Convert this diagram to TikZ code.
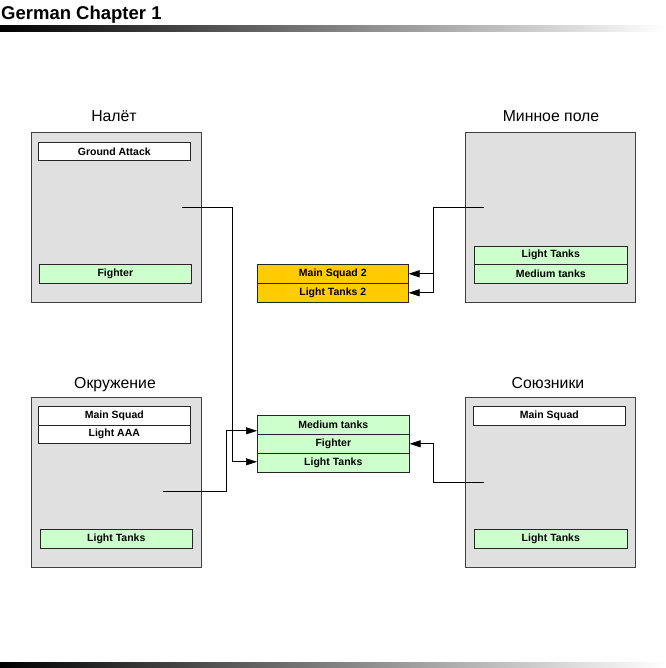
\documentclass[tikz,border=0pt]{standalone}
\usepackage{fontspec}
\setmainfont{Liberation Sans}
\usetikzlibrary{arrows.meta}
\definecolor{panelgray}{HTML}{E0E0E0}
\definecolor{unitgreen}{HTML}{CCFFCC}
\definecolor{unitorange}{HTML}{FFCC00}
\begin{document}
\begin{tikzpicture}[x=1pt,y=-1pt,
  panel/.style={draw=black!75, fill=panelgray, line width=1pt, minimum width=170pt, minimum height=170pt, anchor=north west, inner sep=0},
  ptitle/.style={anchor=base, inner sep=0, font=\fontsize{15.8}{18}\selectfont},
  unit/.style={draw=black!85, line width=0.6pt, anchor=north west, minimum width=152pt, minimum height=19pt, inner sep=0, font=\fontsize{10.5}{12}\selectfont\bfseries},
  wunit/.style={unit, fill=white},
  gunit/.style={unit, fill=unitgreen},
  ounit/.style={unit, fill=unitorange},
  conn/.style={draw=black, line width=0.7pt, -{Triangle[length=11pt,width=7pt]}}
]
\useasboundingbox (0,0) rectangle (665,668);
\shade[left color=black, right color=white] (0,26) rectangle (665,31.5);
\shade[left color=black, right color=white] (0,662.5) rectangle (665,668);
\node[anchor=base west, inner sep=0, font=\fontsize{18.5}{20}\selectfont\bfseries] (title) at (1,20) {German Chapter 1};

% Nalet
\node[panel] (nalet) at (31,132) {};
\node[ptitle] (naletT) at (114,122) {Налёт};
\node[wunit, minimum height=18pt] (ga) at (38,142) {Ground Attack};
\node[gunit] (nfi) at (39,264) {Fighter};

% Minnoe pole
\node[panel] (minn) at (465,132) {};
\node[ptitle] (minnT) at (551,122) {Минное поле};
\node[gunit, minimum width=153pt, minimum height=18pt] (mlt) at (474,246) {Light Tanks};
\node[gunit, minimum width=153pt] (mmt) at (474,264) {Medium tanks};

% Orange group
\node[ounit, minimum width=151pt] (ms2) at (257,264) {Main Squad 2};
\node[ounit, minimum width=151pt] (lt2) at (257,283) {Light Tanks 2};

% Okruzhenie
\node[panel] (okr) at (31,397) {};
\node[ptitle] (okrT) at (115,388) {Окружение};
\node[wunit] (oms) at (38,406) {Main Squad};
\node[wunit, minimum height=18pt] (oaaa) at (38,425) {Light AAA};
\node[gunit] (olt) at (40,529) {Light Tanks};

% Soyuzniki
\node[panel] (soy) at (465,397) {};
\node[ptitle] (soyT) at (548,388) {Союзники};
\node[wunit] (sms) at (473,406) {Main Squad};
\node[gunit, minimum width=153pt] (slt) at (474,529) {Light Tanks};

% Center group
\node[gunit] (cmt) at (257,415) {Medium tanks};
\node[gunit] (cfi) at (257,434) {Fighter};
\node[gunit] (clt) at (257,453) {Light Tanks};

% Connectors
\coordinate (s1) at (182,207);
\draw[conn] (s1) -- (232,207) |- ([yshift=1pt]clt.west);
\coordinate (s2) at (163,491);
\draw[conn] (s2) -- (226,491) |- ([yshift=-6pt]cmt.west);
\coordinate (s3) at (484,207);
\coordinate (j3) at (433,207);
\draw[conn] (s3) -- (j3) |- (ms2.east);
\draw[conn] (j3) |- (lt2.east);
\coordinate (s4) at (484,482);
\draw[conn] (s4) -- (433,482) |- (cfi.east);
\end{tikzpicture}
\end{document}
